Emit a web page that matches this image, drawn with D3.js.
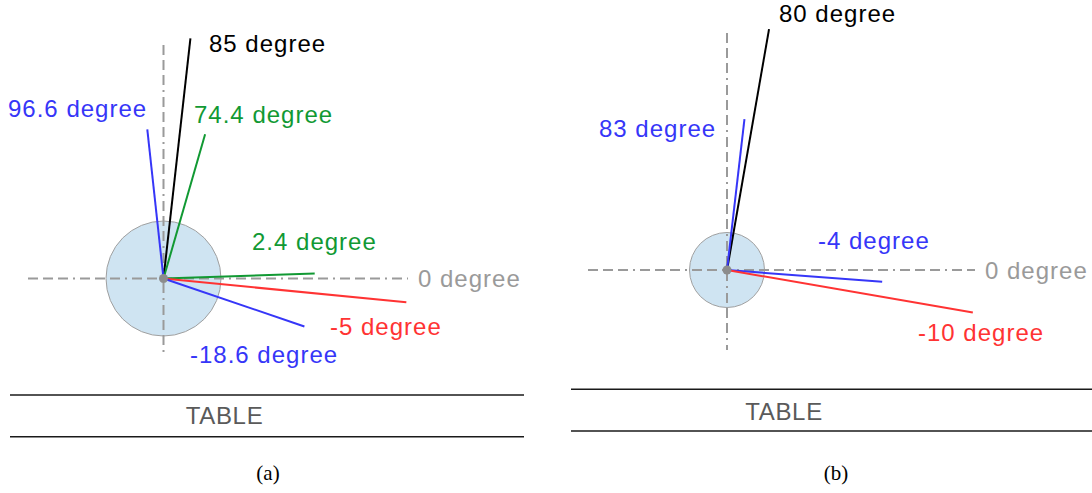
<!DOCTYPE html>
<html>
<head>
<meta charset="utf-8">
<script src="https://cdn.jsdelivr.net/npm/d3@7"></script>
<style>
  html, body { margin: 0; padding: 0; background: #fff; }
  svg { display: block; }
  .lbl { font-family: "Liberation Sans", Arial, sans-serif; font-size: 24px; letter-spacing: 1px; }
  .tbl { font-family: "Liberation Sans", Arial, sans-serif; font-size: 24px; letter-spacing: 0.7px; fill: #5a5a5a; }
  .cap { font-family: "Liberation Serif", "DejaVu Serif", serif; font-size: 21px; fill: #000; }
</style>
</head>
<body>
<svg id="chart" width="1092" height="493"></svg>
<script>
// ---------- DATA ----------
// Panel (a)
const aLabels   = ["85 degree", "74.4 degree", "96.6 degree", "2.4 degree", "-5 degree", "-18.6 degree"];
const aAngles   = [83.6, 73.9, 96.2, 1.9, -5.6, -18.8];      // drawn direction (deg, CCW from +x)
const aLengths  = [0.99, 0.615, 0.615, 0.62, 1.0, 0.61];     // relative ray length
const aColors   = ["black", "green", "blue", "green", "red", "blue"];
// Panel (b)
const bLabels   = ["80 degree", "83 degree", "-4 degree", "-10 degree"];
const bAngles   = [80.1, 83.4, -4.3, -9.8];
const bLengths  = [0.99, 0.615, 0.63, 1.01];
const bColors   = ["black", "blue", "blue", "red"];
const zeroLabel = "0 degree";
const tableText = "TABLE";
const captions  = ["(a)", "(b)"];

// ---------- STYLE / LAYOUT ----------
const palette = { black: "#000000", green: "#119933", blue: "#3636f8", red: "#ff3333", gray: "#9a9a9a" };
const panels = [
  {
    labels: aLabels, angles: aAngles, lengths: aLengths, colors: aColors,
    cx: 163.5, cy: 278.5, unit: 244, circleR: 57.5,
    vAxis: [45, 357], hAxis: [28, 408],
    labelPos: [[209, 52], [194, 123], [8, 117], [252, 250], [330, 335], [190, 363]],
    zeroPos: [418, 287],
    table: { x0: 10, x1: 524, yTop: 395, yBot: 436.7, tx: 224.5, ty: 424 },
    caption: { x: 268, y: 480 }
  },
  {
    labels: bLabels, angles: bAngles, lengths: bLengths, colors: bColors,
    cx: 727, cy: 270, unit: 247, circleR: 37.5,
    vAxis: [33, 350], hAxis: [588, 975],
    labelPos: [[779, 22], [599, 137], [818, 249], [918, 341]],
    zeroPos: [985, 279],
    table: { x0: 571, x1: 1092, yTop: 389.3, yBot: 431, tx: 784, ty: 419.5 },
    caption: { x: 836, y: 480 }
  }
];

const svg = d3.select("#chart");

panels.forEach((p, pi) => {
  const g = svg.append("g");
  // scales: relative length -> pixels; angle (deg) -> radians
  const r = d3.scaleLinear().domain([0, 1]).range([0, p.unit]);
  const ang = d3.scaleLinear().domain([0, 360]).range([0, 2 * Math.PI]);
  const px = (a, l) => p.cx + r(l) * Math.cos(ang(a));
  const py = (a, l) => p.cy - r(l) * Math.sin(ang(a));

  // base circle
  g.append("circle")
    .attr("cx", p.cx).attr("cy", p.cy).attr("r", p.circleR)
    .attr("fill", "#cfe4f2").attr("stroke", "#a0a0a0").attr("stroke-width", 1);

  // dashed reference axes
  const axisStyle = sel => sel.attr("stroke", palette.gray).attr("stroke-width", 2)
    .attr("stroke-dasharray", "10,5,10,5,10,5,2,5").attr("fill", "none");
  g.append("line").attr("x1", p.cx).attr("x2", p.cx).attr("y1", p.vAxis[0]).attr("y2", p.vAxis[1]).call(axisStyle);
  g.append("line").attr("x1", p.hAxis[0]).attr("x2", p.hAxis[1]).attr("y1", p.cy).attr("y2", p.cy).call(axisStyle);

  // rays
  const rays = p.angles.map((a, i) => ({ a, l: p.lengths[i], c: palette[p.colors[i]] }));
  g.selectAll("line.ray").data(rays).enter().append("line")
    .attr("class", "ray")
    .attr("x1", p.cx).attr("y1", p.cy)
    .attr("x2", d => px(d.a, d.l)).attr("y2", d => py(d.a, d.l))
    .attr("stroke", d => d.c).attr("stroke-width", 2);

  // center dot
  g.append("circle").attr("cx", p.cx).attr("cy", p.cy).attr("r", 4.5).attr("fill", "#8c8c8c");

  // labels
  g.selectAll("text.lbl").data(p.labels).enter().append("text")
    .attr("class", "lbl")
    .attr("x", (d, i) => p.labelPos[i][0]).attr("y", (d, i) => p.labelPos[i][1])
    .attr("fill", (d, i) => palette[p.colors[i]])
    .text(d => d);
  g.append("text").attr("class", "lbl")
    .attr("x", p.zeroPos[0]).attr("y", p.zeroPos[1])
    .attr("fill", palette.gray).text(zeroLabel);

  // table
  const t = p.table;
  [t.yTop, t.yBot].forEach(y => {
    g.append("line").attr("x1", t.x0).attr("x2", t.x1).attr("y1", y).attr("y2", y)
      .attr("stroke", "#1a1a1a").attr("stroke-width", 1.6);
  });
  g.append("text").attr("class", "tbl").attr("x", t.tx).attr("y", t.ty)
    .attr("text-anchor", "middle").text(tableText);

  // caption
  g.append("text").attr("class", "cap").attr("x", p.caption.x).attr("y", p.caption.y)
    .attr("text-anchor", "middle").text(captions[pi]);
});
</script>
</body>
</html>
